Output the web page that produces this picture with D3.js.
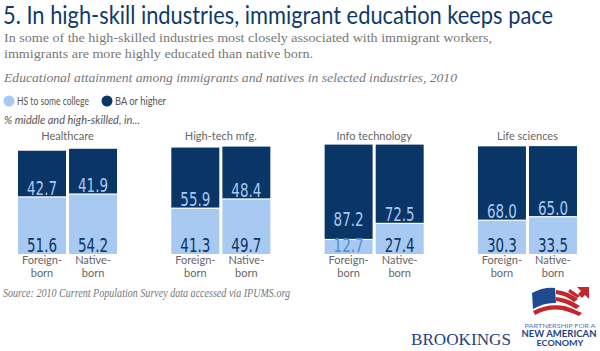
<!DOCTYPE html>
<html>
<head>
<meta charset="utf-8">
<script src="https://cdnjs.cloudflare.com/ajax/libs/d3/7.8.5/d3.min.js"></script>
<style>
  body { margin: 0; background: #fff; }
  svg { display: block; }
</style>
</head>
<body>
<div id="chart"></div>
<script>
// data
var industries = ['Healthcare', 'High-tech mfg.', 'Info technology', 'Life sciences'];
var groups = ['Foreign-born', 'Native-born'];
var hsValues = [[51.6, 54.2], [41.3, 49.7], [12.7, 27.4], [30.3, 33.5]];
var baValues = [[42.7, 41.9], [55.9, 48.4], [87.2, 72.5], [68.0, 65.0]];
var seriesNames = ['HS to some college', 'BA or higher'];

var width = 600, height = 351;
var navy = '#0a3567', light = '#a8c9f1';
var sansFont = 'Lato, "Open Sans", sans-serif';
var serifFont = '"Liberation Serif", "DejaVu Serif", serif';
var numFont = '"Liberation Sans Narrow", "DejaVu Sans Condensed", "Roboto", sans-serif';

var svg = d3.select('#chart').append('svg')
    .attr('width', width)
    .attr('height', height);

// title + subtitles
svg.append('text')
    .attr('x', 3).attr('y', 24)
    .attr('fill', '#0d3a6b')
    .style('font-family', sansFont).style('font-size', '25px')
    .attr('textLength', 550).attr('lengthAdjust', 'spacingAndGlyphs')
    .text('5. In high-skill industries, immigrant education keeps pace');

svg.append('text')
    .attr('x', 4).attr('y', 42)
    .attr('fill', '#777')
    .style('font-family', serifFont).style('font-size', '13.5px')
    .attr('textLength', 488).attr('lengthAdjust', 'spacingAndGlyphs')
    .text('In some of the high-skilled industries most closely associated with immigrant workers,');

svg.append('text')
    .attr('x', 4).attr('y', 58)
    .attr('fill', '#777')
    .style('font-family', serifFont).style('font-size', '13.5px')
    .attr('textLength', 309).attr('lengthAdjust', 'spacingAndGlyphs')
    .text('immigrants are more highly educated than native born.');

svg.append('text')
    .attr('x', 4).attr('y', 82)
    .attr('fill', '#777')
    .style('font-family', serifFont).style('font-size', '13.5px').style('font-style', 'italic')
    .attr('textLength', 453).attr('lengthAdjust', 'spacingAndGlyphs')
    .text('Educational attainment among immigrants and natives in selected industries, 2010');

// legend
var legendX = [9, 107];
var legendW = [72, 51];
seriesNames.forEach(function (name, i) {
    svg.append('circle')
        .attr('cx', legendX[i]).attr('cy', 101).attr('r', 5.5)
        .attr('fill', i === 0 ? light : navy);
    svg.append('text')
        .attr('x', legendX[i] + 8).attr('y', 105)
        .attr('fill', '#555')
        .style('font-family', sansFont).style('font-size', '11px')
        .attr('textLength', legendW[i]).attr('lengthAdjust', 'spacingAndGlyphs')
        .text(name);
});

svg.append('text')
    .attr('x', 4).attr('y', 124)
    .attr('fill', '#555')
    .style('font-family', sansFont).style('font-size', '11px').style('font-style', 'italic')
    .attr('textLength', 136).attr('lengthAdjust', 'spacingAndGlyphs')
    .text('% middle and high-skilled,  in...');

// scales
var x0 = d3.scaleBand().domain(industries).range([18, 577]).paddingInner(0.354);
var x1 = d3.scaleBand().domain(groups).range([0, x0.bandwidth()]).paddingInner(0.06);
var y = d3.scaleLinear().domain([0, 100]).range([254, 144.5]);

var g = svg.selectAll('.industry')
    .data(industries)
    .enter().append('g')
    .attr('class', 'industry')
    .attr('transform', function (d) { return 'translate(' + x0(d) + ',0)'; });

g.append('text')
    .attr('x', x0.bandwidth() / 2).attr('y', 140)
    .attr('text-anchor', 'middle')
    .attr('fill', '#666')
    .style('font-family', sansFont).style('font-size', '11px')
    .text(function (d) { return d; });

g.each(function (ind, i) {
    var sel = d3.select(this);
    groups.forEach(function (grp, j) {
        var hs = hsValues[i][j], ba = baValues[i][j];
        var bx = x1(grp), bw = x1.bandwidth();
        var bottom = y(0), mid = y(hs), top = y(hs + ba);

        sel.append('rect')
            .attr('x', bx).attr('y', mid).attr('width', bw).attr('height', bottom - mid)
            .attr('fill', light);
        sel.append('rect')
            .attr('x', bx).attr('y', top).attr('width', bw).attr('height', mid - top - 1.2)
            .attr('fill', navy);

        // values
        var hsBase = bottom - 2;
        var baBase = Math.min(mid - 2.5, bottom - 28);
        sel.append('text')
            .attr('x', bx + bw / 2).attr('y', hsBase)
            .attr('text-anchor', 'middle')
            .attr('fill', (bottom - mid) < 18 ? '#4a8cd6' : navy)
            .style('font-family', numFont).style('font-size', '20px')
            .attr('textLength', 30).attr('lengthAdjust', 'spacingAndGlyphs')
            .text(hs.toFixed(1));
        sel.append('text')
            .attr('x', bx + bw / 2).attr('y', baBase)
            .attr('text-anchor', 'middle')
            .attr('fill', light)
            .style('font-family', numFont).style('font-size', '20px')
            .attr('textLength', 30).attr('lengthAdjust', 'spacingAndGlyphs')
            .text(ba.toFixed(1));

        // group labels
        var parts = grp.split('-');
        sel.append('text')
            .attr('x', bx + bw / 2).attr('y', 264)
            .attr('text-anchor', 'middle')
            .attr('fill', '#666')
            .style('font-family', sansFont).style('font-size', '11px')
            .text(parts[0] + '-');
        sel.append('text')
            .attr('x', bx + bw / 2).attr('y', 277)
            .attr('text-anchor', 'middle')
            .attr('fill', '#666')
            .style('font-family', sansFont).style('font-size', '11px')
            .text(parts[1]);
    });
});

// source
svg.append('text')
    .attr('x', 3).attr('y', 297)
    .attr('fill', '#777')
    .style('font-family', serifFont).style('font-size', '11.5px').style('font-style', 'italic')
    .attr('textLength', 287).attr('lengthAdjust', 'spacingAndGlyphs')
    .text('Source: 2010 Current Population Survey data accessed via IPUMS.org');

// logos
svg.append('text')
    .attr('x', 411).attr('y', 345)
    .attr('fill', '#1f4380')
    .style('font-family', serifFont).style('font-size', '17px')
    .attr('textLength', 100).attr('lengthAdjust', 'spacingAndGlyphs')
    .text('BROOKINGS');

var logo = svg.append('g');
// flag: blue canton + red stripes
logo.append('path')
    .attr('d', 'M532,293 Q543,287 555,288 L556,303 Q545,302 533,309 Z')
    .attr('fill', '#1f4a8f');
var stripes = [
    'M556,290 Q568,291 578,299 L574,302 Q565,295 556,294 Z',
    'M556,297 Q568,298 580,306 L576,309 Q565,302 556,301 Z',
    'M533,311 Q548,303 565,306 Q574,309 582,313 L579,316 Q570,312 562,310 Q548,308 535,315 Z',
    'M570,289 L580,296 L577,298 L568,292 Z',
    'M577,287 L589,287 L589,299 L585,295 L582,298 L578,294 L581,291 Z'
];
stripes.forEach(function (d) {
    logo.append('path').attr('d', d).attr('fill', '#c0282e');
});

svg.append('text')
    .attr('x', 560).attr('y', 328)
    .attr('text-anchor', 'middle')
    .attr('fill', '#4a7ab5')
    .style('font-family', sansFont).style('font-size', '6px')
    .attr('textLength', 71).attr('lengthAdjust', 'spacingAndGlyphs')
    .text('PARTNERSHIP FOR A');
svg.append('text')
    .attr('x', 559).attr('y', 337)
    .attr('text-anchor', 'middle')
    .attr('fill', '#1f4380')
    .style('font-family', sansFont).style('font-size', '9px').style('font-weight', 'bold')
    .attr('textLength', 75).attr('lengthAdjust', 'spacingAndGlyphs')
    .text('NEW AMERICAN');
svg.append('text')
    .attr('x', 560).attr('y', 346)
    .attr('text-anchor', 'middle')
    .attr('fill', '#1f4380')
    .style('font-family', sansFont).style('font-size', '8px').style('font-weight', 'bold')
    .attr('textLength', 47).attr('lengthAdjust', 'spacingAndGlyphs')
    .text('ECONOMY');
</script>
</body>
</html>
